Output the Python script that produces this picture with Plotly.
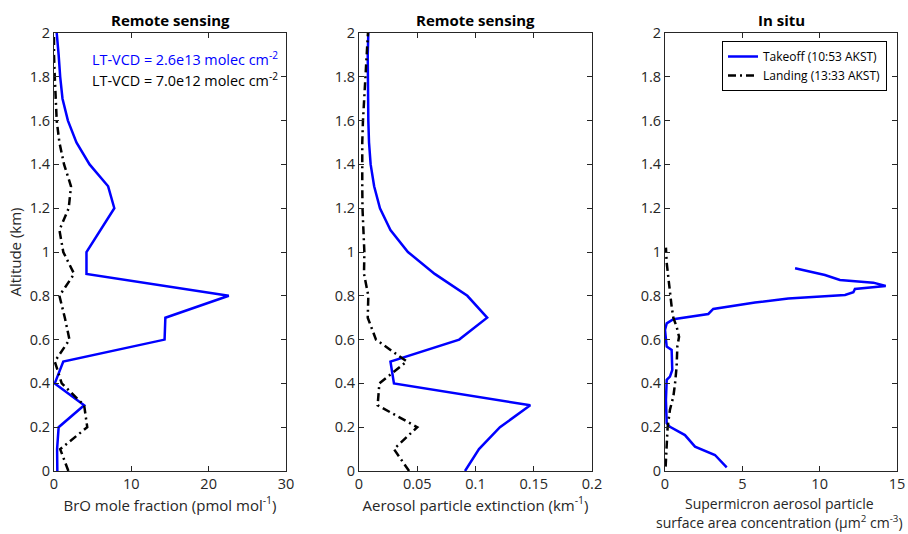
import plotly.graph_objects as go

# Altitude grid of the retrieved (remote sensing) profiles, km
alt_rs = [0.0, 0.1, 0.2, 0.3, 0.4, 0.5, 0.6, 0.7, 0.8, 0.9, 1.0,
          1.1, 1.2, 1.3, 1.4, 1.5, 1.6, 1.7, 1.8, 1.9, 2.0]

# BrO mole fraction, pmol/mol
bro_takeoff = [0.43, 0.4, 0.6, 3.9, 0.1, 1.2, 14.3, 14.4, 22.6, 4.2, 4.2,
               6.0, 7.8, 7.0, 4.6, 2.9, 1.8, 1.1, 0.8, 0.6, 0.35]
bro_landing = [1.86, 0.8, 4.3, 3.9, 1.0, 0.1, 2.0, 1.4, 0.7, 2.6, 1.2,
               0.7, 1.9, 2.2, 1.3, 0.7, 0.35, 0.2, 0.1, 0.0, 0.0]

# Aerosol extinction, 1/km
ext_takeoff = [0.091, 0.103, 0.121, 0.147, 0.030, 0.027, 0.086, 0.110, 0.093, 0.065, 0.042,
               0.027, 0.018, 0.013, 0.010, 0.0086, 0.008, 0.0077, 0.0075, 0.0075, 0.008]
ext_landing = [0.043, 0.030, 0.050, 0.016, 0.0175, 0.041, 0.0146, 0.0075, 0.008, 0.0043, 0.0046,
               0.0035, 0.003, 0.0028, 0.0026, 0.0028, 0.0034, 0.0043, 0.0054, 0.0066, 0.0077]

# In situ supermicron surface area concentration, um^2/cm^3
sa_takeoff_alt = [0.017, 0.073, 0.111, 0.164, 0.202, 0.218, 0.324, 0.416, 0.431, 0.461,
                  0.553, 0.568, 0.644, 0.674, 0.693, 0.717, 0.740, 0.769, 0.788, 0.804,
                  0.816, 0.831, 0.845, 0.860, 0.872, 0.895, 0.926]
sa_takeoff = [3.99, 3.23, 1.94, 1.29, 0.32, 0.11, 0.06, 0.11, 0.32, 0.47,
              0.43, 0.11, 0.0, 0.11, 0.54, 2.80, 3.12, 5.82, 7.97, 11.64,
              12.18, 12.28, 14.27, 13.47, 11.31, 10.34, 8.41]
sa_landing_alt = [0.02, 0.14, 0.20, 0.28, 0.34, 0.40, 0.476, 0.57, 0.613, 0.659,
                  0.70, 0.75, 0.81, 0.887, 0.951, 1.02]
sa_landing = [0.04, 0.11, 0.17, 0.32, 0.54, 0.65, 0.75, 0.80, 0.91, 0.75,
              0.54, 0.43, 0.32, 0.22, 0.11, 0.06]

titles = ["Remote sensing", "Remote sensing", "In situ"]
legend_names = ["Takeoff (10:53 AKST)", "Landing (13:33 AKST)"]

FONT = "Open Sans"
AX = "#262626"
BLUE = "#0000FF"
DASHDOT = "8px,4px,2px,4px"
W, H = 908, 534

panels_px = [(54, 286), (359, 592), (665, 897)]
y_top, y_bot = 33, 471
ydom = [(H - y_bot) / H, (H - y_top) / H]

fig = go.Figure()

series = [
    (bro_takeoff, alt_rs, bro_landing, alt_rs),
    (ext_takeoff, alt_rs, ext_landing, alt_rs),
    (sa_takeoff, sa_takeoff_alt, sa_landing, sa_landing_alt),
]
for i, (xb, yb, xk, yk) in enumerate(series):
    sfx = "" if i == 0 else str(i + 1)
    fig.add_trace(go.Scatter(x=xb, y=yb, mode="lines", xaxis="x" + sfx, yaxis="y" + sfx,
                             line=dict(color=BLUE, width=2.5),
                             name=legend_names[0], showlegend=(i == 2)))
    fig.add_trace(go.Scatter(x=xk, y=yk, mode="lines", xaxis="x" + sfx, yaxis="y" + sfx,
                             line=dict(color="black", width=2.5, dash=DASHDOT),
                             name=legend_names[1], showlegend=(i == 2)))

x_ranges = [[0, 30], [0, 0.2], [0, 15]]
x_dticks = [10, 0.05, 5]
x_titles = ["BrO mole fraction (pmol mol<sup>-1</sup>)",
            "Aerosol particle extinction (km<sup>-1</sup>)",
            None]
# the in-situ axis title is set as two separate lines below
sa_title_lines = ["Supermicron aerosol particle",
                  "surface area concentration (μm<sup>2</sup> cm<sup>-3</sup>)"]

common = dict(showline=True, linecolor=AX, linewidth=1, mirror="allticks",
              ticks="inside", ticklen=5, tickcolor=AX, tickwidth=1,
              showgrid=False, zeroline=False, automargin=False,
              tickfont=dict(family=FONT, size=14.5, color=AX))

for i, (x0, x1) in enumerate(panels_px):
    sfx = "" if i == 0 else str(i + 1)
    xa = dict(common, domain=[x0 / W, x1 / W], range=x_ranges[i], dtick=x_dticks[i],
              tick0=0, anchor="y" + sfx)
    if x_titles[i]:
        xa["title"] = dict(text=x_titles[i], standoff=4,
                           font=dict(family=FONT, size=15, color=AX))
    ya = dict(common, domain=ydom, range=[0, 2], dtick=0.2, tick0=0, anchor="x" + sfx)
    if i == 0:
        ya["title"] = dict(text="Altitude (km)", standoff=4,
                           font=dict(family=FONT, size=15, color=AX))
    fig.update_layout(**{"xaxis" + sfx: xa, "yaxis" + sfx: ya})
    fig.add_annotation(text="<b>" + titles[i] + "</b>", xref="paper", yref="paper",
                       x=(x0 + x1) / 2 / W, y=(H - 20) / H, showarrow=False,
                       xanchor="center", yanchor="middle",
                       font=dict(family=FONT, size=15, color="black"))

for line, ypx in zip(sa_title_lines, [503, 522]):
    fig.add_annotation(text=line, xref="paper", yref="paper",
                       x=779 / W, y=(H - ypx) / H, xanchor="center", yanchor="middle",
                       showarrow=False, borderpad=0,
                       font=dict(family=FONT, size=14, color=AX))

fig.add_annotation(text="LT-VCD = 2.6e13 molec cm<sup>-2</sup>", xref="paper", yref="paper",
                   x=280 / W, y=(H - 58) / H, xanchor="right", yanchor="middle",
                   showarrow=False, font=dict(family=FONT, size=14.4, color=BLUE))
fig.add_annotation(text="LT-VCD = 7.0e12 molec cm<sup>-2</sup>", xref="paper", yref="paper",
                   x=280 / W, y=(H - 79) / H, xanchor="right", yanchor="middle",
                   showarrow=False, font=dict(family=FONT, size=14.4, color="black"))

fig.update_layout(
    width=W, height=H,
    margin=dict(l=0, r=0, t=0, b=0),
    paper_bgcolor="white", plot_bgcolor="white",
    legend=dict(x=887 / W, y=(H - 41) / H, xanchor="right", yanchor="top",
                bgcolor="white", bordercolor="black", borderwidth=1,
                font=dict(family=FONT, size=12, color="black"),
                tracegroupgap=0, itemwidth=30),
)

fig.write_html("out.html")
